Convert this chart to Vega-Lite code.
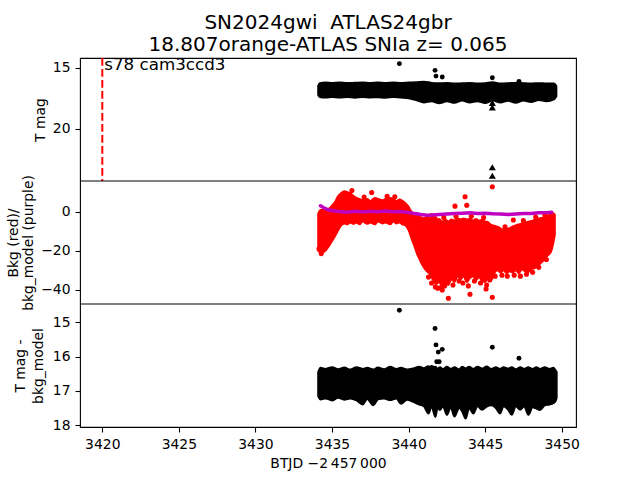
{
  "$schema": "https://vega.github.io/schema/vega-lite/v6.json",
  "autosize": "none",
  "width": 496,
  "height": 369,
  "padding": {"left": 80, "top": 58, "right": 64, "bottom": 53},
  "background": "white",
  "title": {
    "text": ["SN2024gwi\u00a0 ATLAS24gbr", "18.807orange-ATLAS SNIa z= 0.065"],
    "font": "DejaVu Sans", "fontSize": 20, "fontWeight": "normal", "color": "black",
    "lineHeight": 22, "anchor": "middle", "frame": "group", "baseline": "alphabetic", "offset": -14
  },
  "config": {
    "view": {"stroke": "black", "strokeWidth": 1.1},
    "axis": {
      "grid": false, "domain": false, "tickColor": "black", "tickWidth": 1.1, "tickSize": 5,
      "labelFont": "DejaVu Sans", "labelFontSize": 13.9, "labelColor": "black", "labelPadding": 5, "labelFlush": false,
      "titleFont": "DejaVu Sans", "titleFontSize": 13.9, "titleFontWeight": "normal", "titleColor": "black"
    }
  },
  "datasets": {
    "bandTop": [
      {"t":3434.10,"top":16.50,"bot":17.25},{"t":3434.20,"top":16.28,"bot":17.40},{"t":3434.6,"top":16.22,"bot":17.45},
      {"t":3435.0,"top":16.25,"bot":17.40},{"t":3435.5,"top":16.22,"bot":17.44},{"t":3436.0,"top":16.26,"bot":17.40},
      {"t":3436.5,"top":16.24,"bot":17.46},{"t":3437.0,"top":16.22,"bot":17.40},{"t":3437.5,"top":16.26,"bot":17.44},
      {"t":3438.0,"top":16.22,"bot":17.42},{"t":3438.5,"top":16.25,"bot":17.46},{"t":3439.0,"top":16.22,"bot":17.40},
      {"t":3439.5,"top":16.25,"bot":17.45},{"t":3440.0,"top":16.22,"bot":17.50},{"t":3440.5,"top":16.20,"bot":17.65},
      {"t":3441.0,"top":16.15,"bot":17.85},{"t":3441.5,"top":16.25,"bot":17.75},{"t":3442.0,"top":16.28,"bot":17.92},
      {"t":3442.5,"top":16.26,"bot":17.75},{"t":3443.0,"top":16.30,"bot":17.88},{"t":3443.5,"top":16.28,"bot":17.70},
      {"t":3444.0,"top":16.26,"bot":17.85},{"t":3444.5,"top":16.30,"bot":17.75},{"t":3445.0,"top":16.27,"bot":17.90},
      {"t":3445.5,"top":16.20,"bot":17.70},{"t":3446.0,"top":16.30,"bot":17.85},{"t":3446.5,"top":16.28,"bot":17.72},
      {"t":3447.0,"top":16.25,"bot":17.88},{"t":3447.5,"top":16.28,"bot":17.70},{"t":3448.0,"top":16.30,"bot":17.82},
      {"t":3448.5,"top":16.27,"bot":17.65},{"t":3449.0,"top":16.30,"bot":17.75},{"t":3449.5,"top":16.30,"bot":17.60},
      {"t":3449.65,"top":16.50,"bot":17.35}
    ],
    "ptsTop": [
      {"t":3439.40,"mag":14.67},{"t":3441.73,"mag":15.22},{"t":3441.79,"mag":15.69},{"t":3442.20,"mag":15.77},
      {"t":3445.47,"mag":15.82},{"t":3447.21,"mag":16.12}
    ],
    "limTop": [
      {"t":3445.47,"mag":17.89},{"t":3445.47,"mag":18.26},{"t":3445.47,"mag":23.17},{"t":3445.47,"mag":23.87}
    ],
    "marker": [{"t":3420,"label":"s78 cam3ccd3"}],
    "bkgCloud": [
      {"t":3434.10,"hi":-1.0,"lo":-20.0},{"t":3434.25,"hi":0.8,"lo":-21.0},{"t":3434.5,"hi":1.0,"lo":-20.5},
      {"t":3434.8,"hi":1.5,"lo":-17.5},{"t":3435.0,"hi":3.0,"lo":-15.0},{"t":3435.2,"hi":5.0,"lo":-12.5},
      {"t":3435.4,"hi":8.0,"lo":-9.5},{"t":3435.6,"hi":9.5,"lo":-7.0},{"t":3435.8,"hi":10.5,"lo":-6.0},
      {"t":3436.0,"hi":10.0,"lo":-6.5},{"t":3436.2,"hi":9.5,"lo":-5.5},{"t":3436.4,"hi":8.0,"lo":-6.2},
      {"t":3436.6,"hi":7.0,"lo":-5.5},{"t":3436.8,"hi":6.5,"lo":-6.5},{"t":3437.0,"hi":6.0,"lo":-5.0},
      {"t":3437.3,"hi":6.5,"lo":-6.2},{"t":3437.5,"hi":5.5,"lo":-5.5},{"t":3437.8,"hi":7.0,"lo":-6.5},
      {"t":3438.0,"hi":6.5,"lo":-5.0},{"t":3438.3,"hi":5.8,"lo":-6.0},{"t":3438.5,"hi":6.5,"lo":-5.5},
      {"t":3438.8,"hi":7.0,"lo":-6.5},{"t":3439.0,"hi":6.5,"lo":-5.0},{"t":3439.2,"hi":5.5,"lo":-6.0},
      {"t":3439.4,"hi":6.2,"lo":-5.5},{"t":3439.6,"hi":5.5,"lo":-6.5},{"t":3439.8,"hi":4.3,"lo":-7.0},
      {"t":3440.0,"hi":2.5,"lo":-9.5},{"t":3440.1,"hi":1.0,"lo":-11.5},{"t":3440.25,"hi":-0.5,"lo":-15.0},
      {"t":3440.4,"hi":-1.7,"lo":-18.0},{"t":3440.55,"hi":-2.2,"lo":-21.5},{"t":3440.7,"hi":-2.6,"lo":-24.0},
      {"t":3440.85,"hi":-3.0,"lo":-26.5},{"t":3441.0,"hi":-3.4,"lo":-28.5},{"t":3441.2,"hi":-2.8,"lo":-30.5},
      {"t":3441.4,"hi":-3.5,"lo":-32.0},{"t":3441.6,"hi":-3.0,"lo":-35.0},{"t":3441.8,"hi":-4.3,"lo":-37.0},
      {"t":3442.0,"hi":-3.8,"lo":-36.0},{"t":3442.2,"hi":-5.1,"lo":-38.5},{"t":3442.4,"hi":-4.2,"lo":-36.5},
      {"t":3442.6,"hi":-5.0,"lo":-37.5},{"t":3442.8,"hi":-4.0,"lo":-34.5},{"t":3443.0,"hi":-4.5,"lo":-36.0},
      {"t":3443.2,"hi":-3.5,"lo":-33.0},{"t":3443.4,"hi":-4.0,"lo":-34.5},{"t":3443.6,"hi":-3.5,"lo":-33.0},
      {"t":3443.8,"hi":-4.0,"lo":-36.0},{"t":3444.0,"hi":-3.6,"lo":-34.0},{"t":3444.2,"hi":-4.5,"lo":-33.0},
      {"t":3444.4,"hi":-3.8,"lo":-35.0},{"t":3444.6,"hi":-4.5,"lo":-33.5},{"t":3444.8,"hi":-4.2,"lo":-35.5},
      {"t":3445.0,"hi":-5.0,"lo":-36.0},{"t":3445.2,"hi":-5.5,"lo":-33.5},{"t":3445.4,"hi":-6.8,"lo":-35.0},
      {"t":3445.6,"hi":-7.2,"lo":-31.5},{"t":3445.8,"hi":-7.7,"lo":-30.0},{"t":3446.0,"hi":-8.5,"lo":-31.0},
      {"t":3446.2,"hi":-9.4,"lo":-30.0},{"t":3446.4,"hi":-9.0,"lo":-31.5},{"t":3446.6,"hi":-8.5,"lo":-30.5},
      {"t":3446.8,"hi":-7.5,"lo":-31.0},{"t":3447.0,"hi":-7.0,"lo":-30.0},{"t":3447.2,"hi":-6.5,"lo":-31.5},
      {"t":3447.4,"hi":-6.0,"lo":-29.5},{"t":3447.6,"hi":-5.5,"lo":-30.5},{"t":3447.8,"hi":-5.1,"lo":-31.0},
      {"t":3448.0,"hi":-4.8,"lo":-29.5},{"t":3448.2,"hi":-4.3,"lo":-29.0},{"t":3448.4,"hi":-3.8,"lo":-28.0},
      {"t":3448.6,"hi":-3.4,"lo":-26.5},{"t":3448.8,"hi":-3.0,"lo":-25.0},{"t":3449.0,"hi":-2.6,"lo":-23.0},
      {"t":3449.15,"hi":-1.8,"lo":-22.0},{"t":3449.3,"hi":-0.8,"lo":-20.5},{"t":3449.45,"hi":-0.8,"lo":-16.0},
      {"t":3449.55,"hi":-1.5,"lo":-12.0}
    ],
    "bkgPts": [
      {"t":3437.59,"v":9.8},{"t":3443.03,"v":2.8},{"t":3443.69,"v":7.6},{"t":3443.80,"v":3.3},{"t":3446.84,"v":-4.3},
      {"t":3442.60,"v":-44.3},{"t":3444.01,"v":-42.3},{"t":3445.47,"v":-43.8},{"t":3445.06,"v":-39.6},
      {"t":3441.90,"v":-39.2},{"t":3442.20,"v":-40.1},{"t":3441.73,"v":-3.5},{"t":3445.47,"v":12.7},
      {"t":3441.3,"v":-33.5},{"t":3441.5,"v":-36.5},{"t":3441.75,"v":-38.5},{"t":3442.05,"v":-39.0},{"t":3442.35,"v":-38.0},
      {"t":3442.9,"v":-37.5},{"t":3443.3,"v":-35.5},{"t":3443.55,"v":-36.5},{"t":3443.9,"v":-38.0},{"t":3444.3,"v":-35.5},
      {"t":3444.7,"v":-36.5},{"t":3445.1,"v":-37.5},{"t":3445.3,"v":-35.0},{"t":3445.65,"v":-33.0},{"t":3446.1,"v":-32.5},
      {"t":3446.45,"v":-33.0},{"t":3446.9,"v":-32.5},{"t":3447.3,"v":-33.0},{"t":3447.7,"v":-32.0},{"t":3448.1,"v":-31.0},
      {"t":3448.5,"v":-28.5},{"t":3449.0,"v":-24.5},
      {"t":3441.5,"v":-2.0},{"t":3442.3,"v":-3.0},{"t":3443.1,"v":-2.5},{"t":3444.1,"v":-2.4},{"t":3444.9,"v":-3.0},
      {"t":3446.3,"v":-7.8},{"t":3447.5,"v":-4.5},{"t":3448.3,"v":-2.8},{"t":3448.9,"v":-1.5},
      {"t":3436.3,"v":10.8},{"t":3437.1,"v":7.5},{"t":3438.6,"v":7.8},{"t":3439.1,"v":7.6},{"t":3434.3,"v":-21.5},{"t":3434.15,"v":-19.0}
    ],
    "model": [
      {"t":3434.25,"v":3.0},{"t":3434.5,"v":1.8},{"t":3434.8,"v":0.8},{"t":3435.2,"v":0.3},{"t":3435.6,"v":0.0},
      {"t":3436.0,"v":-0.3},{"t":3436.5,"v":0.2},{"t":3437.0,"v":-0.2},{"t":3437.5,"v":0.2},{"t":3438.0,"v":-0.1},
      {"t":3438.5,"v":0.3},{"t":3439.0,"v":0.0},{"t":3439.5,"v":0.1},{"t":3440.0,"v":-0.4},{"t":3440.4,"v":-1.0},
      {"t":3440.8,"v":-1.5},{"t":3441.2,"v":-1.8},{"t":3441.6,"v":-1.7},{"t":3442.0,"v":-1.5},{"t":3442.5,"v":-1.2},
      {"t":3443.0,"v":-1.0},{"t":3443.5,"v":-0.8},{"t":3444.0,"v":-0.6},{"t":3444.5,"v":-0.9},{"t":3445.0,"v":-0.8},
      {"t":3445.5,"v":-1.1},{"t":3446.0,"v":-1.2},{"t":3446.5,"v":-1.4},{"t":3447.0,"v":-1.2},{"t":3447.5,"v":-1.0},
      {"t":3448.0,"v":-0.9},{"t":3448.5,"v":-0.6},{"t":3449.0,"v":-0.5},{"t":3449.35,"v":-0.3}
    ],
    "bandBot": [
      {"t":3434.10,"top":16.45,"bot":17.15},{"t":3434.25,"top":16.33,"bot":17.25},{"t":3434.6,"top":16.36,"bot":17.22},
      {"t":3435.0,"top":16.31,"bot":17.28},{"t":3435.4,"top":16.37,"bot":17.20},{"t":3435.8,"top":16.32,"bot":17.26},
      {"t":3436.2,"top":16.38,"bot":17.22},{"t":3436.6,"top":16.31,"bot":17.28},{"t":3437.0,"top":16.36,"bot":17.40},
      {"t":3437.3,"top":16.33,"bot":17.24},{"t":3437.7,"top":16.38,"bot":17.42},{"t":3438.0,"top":16.32,"bot":17.25},
      {"t":3438.4,"top":16.37,"bot":17.22},{"t":3438.8,"top":16.30,"bot":17.27},{"t":3439.2,"top":16.36,"bot":17.22},
      {"t":3439.5,"top":16.33,"bot":17.38},{"t":3439.9,"top":16.38,"bot":17.26},{"t":3440.3,"top":16.35,"bot":17.32},
      {"t":3440.7,"top":16.30,"bot":17.40},{"t":3441.0,"top":16.34,"bot":17.45},{"t":3441.3,"top":16.28,"bot":17.66},
      {"t":3441.5,"top":16.35,"bot":17.45},{"t":3441.75,"top":16.30,"bot":17.76},{"t":3441.9,"top":16.36,"bot":17.48},
      {"t":3442.05,"top":16.31,"bot":17.56},{"t":3442.25,"top":16.37,"bot":17.45},{"t":3442.5,"top":16.30,"bot":17.70},
      {"t":3442.75,"top":16.36,"bot":17.48},{"t":3443.0,"top":16.31,"bot":17.75},{"t":3443.3,"top":16.37,"bot":17.50},
      {"t":3443.5,"top":16.30,"bot":17.60},{"t":3443.73,"top":16.34,"bot":17.81},{"t":3443.95,"top":16.30,"bot":17.50},
      {"t":3444.23,"top":16.36,"bot":17.66},{"t":3444.5,"top":16.30,"bot":17.45},{"t":3444.8,"top":16.35,"bot":17.55},
      {"t":3445.1,"top":16.29,"bot":17.46},{"t":3445.4,"top":16.36,"bot":17.42},{"t":3445.7,"top":16.31,"bot":17.50},
      {"t":3445.97,"top":16.36,"bot":17.66},{"t":3446.2,"top":16.31,"bot":17.45},{"t":3446.5,"top":16.35,"bot":17.55},
      {"t":3446.74,"top":16.31,"bot":17.70},{"t":3447.0,"top":16.37,"bot":17.45},{"t":3447.3,"top":16.31,"bot":17.55},
      {"t":3447.55,"top":16.36,"bot":17.45},{"t":3447.82,"top":16.31,"bot":17.70},{"t":3448.1,"top":16.36,"bot":17.48},
      {"t":3448.35,"top":16.31,"bot":17.52},{"t":3448.58,"top":16.36,"bot":17.56},{"t":3448.9,"top":16.31,"bot":17.42},
      {"t":3449.2,"top":16.36,"bot":17.40},{"t":3449.45,"top":16.33,"bot":17.36},{"t":3449.6,"top":16.40,"bot":17.30},
      {"t":3449.67,"top":16.45,"bot":17.20}
    ],
    "ptsBot": [
      {"t":3439.40,"mag":14.65},{"t":3441.73,"mag":15.18},{"t":3441.79,"mag":15.66},{"t":3441.94,"mag":15.87},
      {"t":3442.20,"mag":15.79},{"t":3441.84,"mag":16.15},{"t":3442.00,"mag":16.15},{"t":3441.51,"mag":16.32},
      {"t":3445.47,"mag":15.73},{"t":3447.21,"mag":16.05}
    ]
  },
  "encoding": {
    "x": {
      "field": "t", "type": "quantitative",
      "scale": {"domain": [3418.544, 3450.934], "nice": false, "zero": false},
      "axis": {"values": [3420, 3425, 3430, 3435, 3440, 3445, 3450], "format": "d", "title": "BTJD \u22122\u2009457\u2009000", "titlePadding": 6}
    }
  },
  "layer": [
    {
      "data": {"name": "bandTop"},
      "mark": {"type": "area", "color": "black", "stroke": "black", "strokeWidth": 2, "strokeJoin": "round", "interpolate": "monotone"},
      "encoding": {
        "y": {"field": "top", "type": "quantitative",
          "scale": {"domain": [14.205, 24.30], "range": [0, 123], "nice": false, "zero": false},
          "axis": {"orient": "left", "values": [15, 20], "format": "d", "title": "T mag", "titleBaseline": "alphabetic", "titleX": -36}},
        "y2": {"field": "bot"}
      }
    },
    {
      "data": {"name": "ptsTop"},
      "mark": {"type": "point", "shape": "circle", "filled": true, "color": "black", "size": 24, "opacity": 1},
      "encoding": {
        "y": {"field": "mag", "type": "quantitative", "scale": {"domain": [14.205, 24.30], "range": [0, 123], "nice": false, "zero": false}, "axis": null}
      }
    },
    {
      "data": {"name": "limTop"},
      "mark": {"type": "point", "shape": "triangle-up", "filled": true, "color": "black", "size": 50, "opacity": 1},
      "encoding": {
        "y": {"field": "mag", "type": "quantitative", "scale": {"domain": [14.205, 24.30], "range": [0, 123], "nice": false, "zero": false}, "axis": null}
      }
    },
    {
      "data": {"name": "marker"},
      "mark": {"type": "rule", "color": "#ff0000", "strokeWidth": 2, "strokeDash": [7.7, 3.3]},
      "encoding": {
        "y": {"datum": 14.205, "type": "quantitative", "scale": {"domain": [14.205, 24.30], "range": [0, 123], "nice": false, "zero": false}, "axis": null},
        "y2": {"datum": 24.30}
      }
    },
    {
      "data": {"name": "marker"},
      "mark": {"type": "text", "align": "left", "baseline": "alphabetic", "dx": 2, "font": "DejaVu Sans", "fontSize": 16.7, "color": "black"},
      "encoding": {
        "y": {"datum": 15.18, "type": "quantitative", "scale": {"domain": [14.205, 24.30], "range": [0, 123], "nice": false, "zero": false}, "axis": null},
        "text": {"field": "label"}
      }
    },
    {
      "data": {"name": "bkgCloud"},
      "mark": {"type": "area", "color": "#ff0000", "stroke": "#ff0000", "strokeWidth": 2, "strokeJoin": "round", "interpolate": "monotone"},
      "encoding": {
        "y": {"field": "hi", "type": "quantitative",
          "scale": {"domain": [-47.25, 15.68], "range": [246, 123], "nice": false, "zero": false},
          "axis": {"orient": "left", "values": [0, -20, -40], "format": "d", "title": ["Bkg (red)/", "bkg_model (purple)"], "titleBaseline": "alphabetic", "titleX": -63, "titleLineHeight": 15.5}},
        "y2": {"field": "lo"}
      }
    },
    {
      "data": {"name": "bkgPts"},
      "mark": {"type": "point", "shape": "circle", "filled": true, "color": "#ff0000", "size": 26, "opacity": 1},
      "encoding": {
        "y": {"field": "v", "type": "quantitative", "scale": {"domain": [-47.25, 15.68], "range": [246, 123], "nice": false, "zero": false}, "axis": null}
      }
    },
    {
      "data": {"name": "model"},
      "mark": {"type": "line", "color": "#bf00bf", "strokeWidth": 3.5, "strokeJoin": "round", "strokeCap": "round"},
      "encoding": {
        "y": {"field": "v", "type": "quantitative", "scale": {"domain": [-47.25, 15.68], "range": [246, 123], "nice": false, "zero": false}, "axis": null}
      }
    },
    {
      "data": {"values": [{}]},
      "mark": {"type": "rule", "color": "black", "strokeWidth": 1.1},
      "encoding": {
        "x": null,
        "y": {"datum": 15.68, "type": "quantitative", "scale": {"domain": [-47.25, 15.68], "range": [246, 123], "nice": false, "zero": false}, "axis": null}
      }
    },
    {
      "data": {"values": [{}]},
      "mark": {"type": "rule", "color": "black", "strokeWidth": 1.1},
      "encoding": {
        "x": null,
        "y": {"datum": -47.25, "type": "quantitative", "scale": {"domain": [-47.25, 15.68], "range": [246, 123], "nice": false, "zero": false}, "axis": null}
      }
    },
    {
      "data": {"name": "bandBot"},
      "mark": {"type": "area", "color": "black", "stroke": "black", "strokeWidth": 2, "strokeJoin": "round", "interpolate": "monotone"},
      "encoding": {
        "y": {"field": "top", "type": "quantitative",
          "scale": {"domain": [14.467, 18.055], "range": [246, 369], "nice": false, "zero": false},
          "axis": {"orient": "left", "values": [15, 16, 17, 18], "format": "d", "title": ["T mag -", "bkg_model"], "titleBaseline": "alphabetic", "titleX": -55.5, "titleLineHeight": 18}},
        "y2": {"field": "bot"}
      }
    },
    {
      "data": {"name": "ptsBot"},
      "mark": {"type": "point", "shape": "circle", "filled": true, "color": "black", "size": 24, "opacity": 1},
      "encoding": {
        "y": {"field": "mag", "type": "quantitative", "scale": {"domain": [14.467, 18.055], "range": [246, 369], "nice": false, "zero": false}, "axis": null}
      }
    }
  ],
  "resolve": {"scale": {"y": "independent"}, "axis": {"y": "independent"}}
}
